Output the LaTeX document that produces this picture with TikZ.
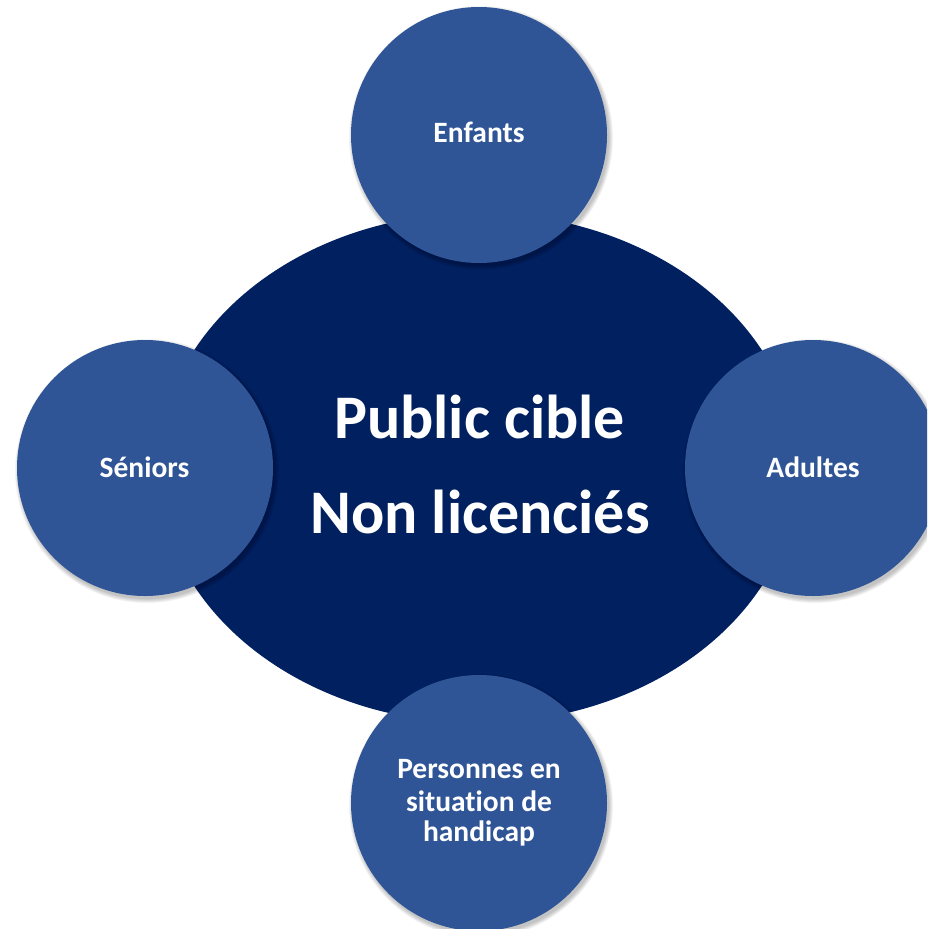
\documentclass[tikz,border=0pt]{standalone}
\usepackage{fontspec}
\setmainfont{Carlito}[Ligatures=NoCommon]
\usetikzlibrary{shapes.geometric}
\definecolor{navy}{HTML}{002060}
\definecolor{cblue}{HTML}{2F5597}
\begin{document}
\begin{tikzpicture}[x=1pt,y=-1pt,
  bubble/.style={circle, fill=cblue, minimum size=256pt, inner sep=0pt},
  core/.style={ellipse, fill=navy, minimum width=640pt, minimum height=510pt, inner sep=0pt},
  lbl/.style={anchor=base, text=white, inner sep=0pt, font=\bfseries\fontsize{29.5}{32}\selectfont},
  big/.style={anchor=base, text=white, inner sep=0pt, font=\bfseries\fontsize{62}{75}\selectfont},
  shade/.style={fill=black, opacity=0.045}]
\useasboundingbox (0,0) rectangle (927,929);
\clip (0,0) rectangle (927,929);
\node[core] (ell) at (478,468) {};
\foreach \cx/\cy in {479/135, 145/468, 813/468, 479/803}{
  \foreach \k in {0,...,5}{
    \fill[shade] (\cx+2,\cy+3) circle [radius=128+\k*0.8];
  }
}
\node[bubble] (enf) at (479,135) {};
\node[bubble] (sen) at (145,468) {};
\node[bubble] (adu) at (813,468) {};
\node[bubble] (per) at (479,803) {};
\node[big] (c1) at (479.5,438) {Public cible};
\node[big] (c2) at (480,533) {Non licenciés};
\node[lbl] (tenf) at (479,142.7) {Enfants};
\node[lbl] (tsen) at (144.5,477) {Séniors};
\node[lbl] (tadu) at (813,477) {Adultes};
\node[lbl] (tp1) at (479,778) {Personnes en};
\node[lbl] (tp2) at (479,811) {situat\kern0pt ion de};
\node[lbl] (tp3) at (479,841) {handicap};
\end{tikzpicture}
\end{document}
